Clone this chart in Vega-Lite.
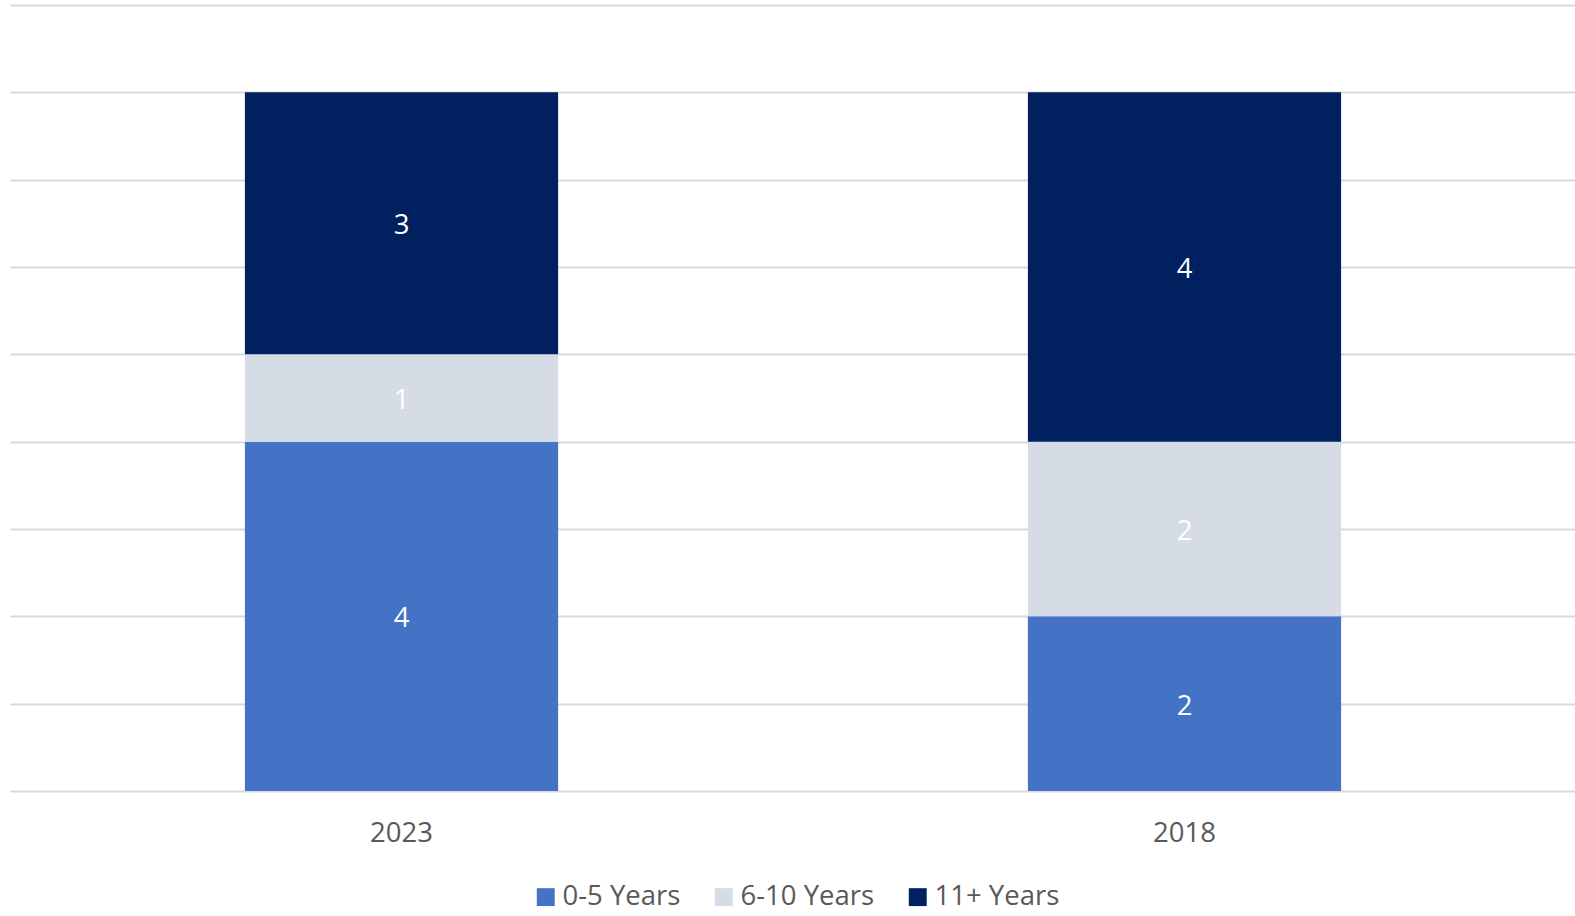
{
  "$schema": "https://vega.github.io/schema/vega-lite/v6.json",
  "width": 1566,
  "height": 786,
  "autosize": {"type": "none"},
  "padding": {"left": 10, "top": 5, "right": 0, "bottom": 125},
  "background": "white",
  "config": {
    "view": {"stroke": null},
    "font": "Open Sans"
  },
  "data": {
    "values": [
      {"year": "2023", "group": "0-5 Years", "order": 1, "value": 4},
      {"year": "2023", "group": "6-10 Years", "order": 2, "value": 1},
      {"year": "2023", "group": "11+ Years", "order": 3, "value": 3},
      {"year": "2018", "group": "0-5 Years", "order": 1, "value": 2},
      {"year": "2018", "group": "6-10 Years", "order": 2, "value": 2},
      {"year": "2018", "group": "11+ Years", "order": 3, "value": 4}
    ]
  },
  "encoding": {
    "x": {
      "field": "year", "type": "nominal", "sort": ["2023", "2018"],
      "scale": {"paddingInner": 0.6, "paddingOuter": 0.3},
      "axis": {"title": null, "ticks": false, "domain": false, "labelAngle": 0,
               "labelFontSize": 27.5, "labelColor": "#595959", "labelPadding": 28, "labelBaseline": "top"}
    },
    "y": {
      "field": "value", "type": "quantitative", "stack": "zero",
      "scale": {"domain": [0, 9], "nice": false},
      "axis": {"title": null, "labels": false, "ticks": false, "domain": false,
               "values": [0,1,2,3,4,5,6,7,8,9],
               "gridColor": "#D9D9D9", "gridWidth": 2}
    },
    "order": {"field": "order", "type": "quantitative"}
  },
  "layer": [
    {
      "mark": {"type": "bar"},
      "encoding": {
        "color": {
          "field": "group", "type": "nominal",
          "sort": ["0-5 Years", "6-10 Years", "11+ Years"],
          "scale": {"domain": ["0-5 Years", "6-10 Years", "11+ Years"], "range": ["#4472C4", "#D6DCE5", "#002060"]},
          "legend": {
            "title": null, "orient": "none", "direction": "horizontal",
            "legendX": 522, "legendY": 878,
            "symbolType": "square", "symbolSize": 320, "symbolStrokeWidth": 0,
            "labelFontSize": 27.5, "labelColor": "#595959", "labelOffset": 3,
            "columnPadding": 29, "labelLimit": 300
          }
        }
      }
    },
    {
      "mark": {"type": "text", "color": "white", "fontSize": 27.5, "baseline": "middle", "dy": 3},
      "encoding": {
        "y": {"field": "value", "type": "quantitative", "stack": "zero", "bandPosition": 0.5},
        "text": {"field": "value", "type": "quantitative"}
      }
    }
  ]
}
